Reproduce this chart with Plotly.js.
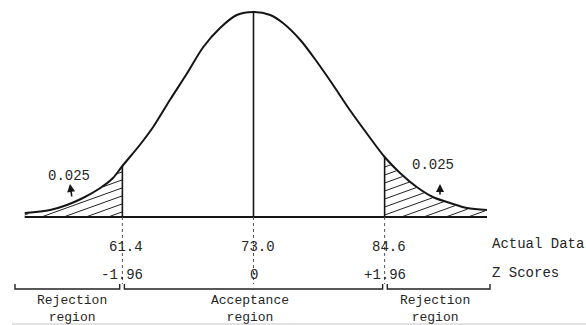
<!DOCTYPE html>
<html>
<head>
<meta charset="utf-8">
<script src="https://cdn.plot.ly/plotly-3.0.1.min.js"></script>
<style>html,body{margin:0;padding:0;background:#fff;}#chart{width:586px;height:325px;}</style>
</head>
<body>
<div id="chart"></div>
<script>
// ---- data ----
// curve: z score and height of the curve above the baseline (arbitrary units)
const curveZ = [-3.42, -3.04, -2.79, -2.55, -2.29, -2.10, -1.96, -1.70, -1.50, -1.25, -0.99, -0.75, -0.50, -0.25, 0.0,
                 0.25, 0.44, 0.70, 0.95, 1.19, 1.44, 1.70, 1.96, 2.19, 2.44, 2.68, 2.94, 3.19, 3.49];
const curveH = [4, 7, 12, 19, 29, 39, 51, 72, 90, 117, 144, 170, 189, 202, 205,
                202, 194, 177, 155, 132, 107, 83, 60, 44, 30, 20, 14, 9, 7];
const boundZ = [-1.96, 0, 1.96];
const dataLabels = ['61.4', '73.0', '84.6'];
const zLabels = ['-1.96', '0', '+1.96'];
const tailArea = ['0.025', '0.025'];
const rowNames = ['Actual Data', 'Z Scores'];
const regionNames = ['Rejection', 'Acceptance', 'Rejection'];

// ---- helpers ----
const PXZ = 66.9;            // pixels per z unit
const X0 = 253.5;            // pixel of z = 0
const Y0 = 217;              // pixel of baseline
const zOf = px => (px - X0) / PXZ;
const yOf = py => Y0 - py;

function curveAt(z) {
  if (z <= curveZ[0]) return curveH[0];
  for (let i = 1; i < curveZ.length; i++) {
    if (z <= curveZ[i]) {
      const t = (z - curveZ[i-1]) / (curveZ[i] - curveZ[i-1]);
      return curveH[i-1] + t * (curveH[i] - curveH[i-1]);
    }
  }
  return curveH[curveH.length - 1];
}
function hatch(a, b) {
  const k = 0.36 * PXZ;       // slope in data units
  const step = 8 / k;         // 8 px vertical spacing
  const xs = [], ys = [];
  for (let z0 = a - 250 / k; z0 < b; z0 += step) {
    let run = null;
    const N = 300;
    for (let i = 0; i <= N; i++) {
      const z = a + (b - a) * i / N;
      const y = k * (z - z0);
      const inside = y >= 0 && y <= curveAt(z) - 1;
      if (inside) {
        if (!run) run = [z, y, z, y]; else { run[2] = z; run[3] = y; }
      }
      if ((!inside || i === N) && run) {
        xs.push(run[0], run[2], null); ys.push(run[1], run[3], null); run = null;
      }
    }
  }
  return {xs, ys};
}

const zMin = curveZ[0], zMax = curveZ[curveZ.length - 1];
const hl = hatch(zMin, boundZ[0]);
const hr = hatch(boundZ[2], zMax);

const black = '#151515';
const traces = [];
// hatching
traces.push({x: hl.xs.concat(hr.xs), y: hl.ys.concat(hr.ys), mode: 'lines',
  line: {color: '#222', width: 1}, hoverinfo: 'skip'});
// baseline
traces.push({x: [zMin, zMax], y: [0, 0], mode: 'lines', line: {color: black, width: 2.2}, hoverinfo: 'skip'});
// curve
traces.push({x: curveZ, y: curveH, mode: 'lines', line: {color: black, width: 2, shape: 'spline', smoothing: 0.9}, hoverinfo: 'skip'});
// solid verticals from baseline up to the curve
const vx = [], vy = [];
boundZ.forEach(z => { vx.push(z, z, null); vy.push(0, curveAt(z), null); });
traces.push({x: vx, y: vy, mode: 'lines', line: {color: black, width: 1.6}, hoverinfo: 'skip'});
// dotted verticals below baseline
const dx = [], dy = [];
boundZ.forEach(z => { dx.push(z, z, null); dy.push(0, yOf(284), null); });
traces.push({x: dx, y: dy, mode: 'lines', line: {color: '#555', width: 1, dash: 'dot'}, hoverinfo: 'skip'});
// brackets
const brY = yOf(289), brT = yOf(284);
const brackets = [[zOf(15), boundZ[0] - 0.04], [boundZ[0] + 0.03, boundZ[2] - 0.03], [boundZ[2] + 0.04, zOf(490)]];
const bx = [], by = [];
brackets.forEach(([a, b]) => { bx.push(a, a, b, b, null); by.push(brT, brY, brY, brT, null); });
traces.push({x: bx, y: by, mode: 'lines', line: {color: '#222', width: 1.4}, hoverinfo: 'skip'});
// faint scan line at the bottom
traces.push({x: [zOf(12), zOf(586)], y: [yOf(324), yOf(324)], mode: 'lines', line: {color: '#d8d8d8', width: 1.5}, hoverinfo: 'skip'});

const font = {family: 'Liberation Mono, Courier New, monospace', size: 14, color: '#262626'};
const fontR = {family: 'Liberation Mono, Courier New, monospace', size: 13, color: '#262626'};
const ann = [];
boundZ.forEach((z, i) => {
  ann.push({x: z, y: yOf(247), text: dataLabels[i], showarrow: false, xanchor: 'center', yanchor: 'middle', xshift: 4, font});
  ann.push({x: z, y: yOf(275), text: zLabels[i], showarrow: false, xanchor: 'center', yanchor: 'middle', font});
});
ann.push({x: zOf(491), y: yOf(244), text: rowNames[0], showarrow: false, xanchor: 'left', yanchor: 'middle', borderpad: 0, font});
ann.push({x: zOf(491), y: yOf(273), text: rowNames[1], showarrow: false, xanchor: 'left', yanchor: 'middle', borderpad: 0, font});
const regionX = [zOf(72), zOf(250), zOf(435)];
regionNames.forEach((n, i) => {
  ann.push({x: regionX[i], y: yOf(308.5), text: n + '<br>region', showarrow: false, xanchor: 'center', yanchor: 'middle', borderpad: 0, font: fontR});
});
// tail area labels with arrows
ann.push({x: zOf(69), y: yOf(176), text: tailArea[0], showarrow: false, xanchor: 'center', yanchor: 'middle', font});
ann.push({x: zOf(433), y: yOf(165), text: tailArea[1], showarrow: false, xanchor: 'center', yanchor: 'middle', font});
ann.push({x: zOf(70), y: yOf(184), ax: 2, ay: 14, text: '', showarrow: true, arrowhead: 2, arrowsize: 1, arrowwidth: 1.6, arrowcolor: black});
ann.push({x: zOf(440), y: yOf(184), ax: 0, ay: 12, text: '', showarrow: true, arrowhead: 2, arrowsize: 1, arrowwidth: 1.6, arrowcolor: black});

const layout = {
  width: 586, height: 325,
  margin: {l: 0, r: 0, t: 0, b: 0, pad: 0},
  paper_bgcolor: '#fff', plot_bgcolor: '#fff',
  showlegend: false,
  xaxis: {range: [zOf(0), zOf(586)], visible: false, fixedrange: true},
  yaxis: {range: [yOf(325), yOf(0)], visible: false, fixedrange: true},
  annotations: ann
};
Plotly.newPlot('chart', traces, layout, {staticPlot: true, displayModeBar: false});
</script>
</body>
</html>
